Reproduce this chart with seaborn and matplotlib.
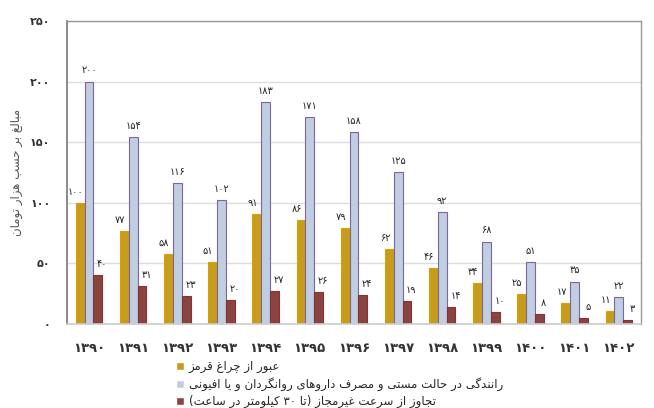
import pandas as pd
import seaborn as sns
import matplotlib
matplotlib.use('Agg')
import matplotlib.pyplot as plt

# data
years = ['1390', '1391', '1392', '1393', '1394', '1395', '1396',
         '1397', '1398', '1399', '1400', '1401', '1402']
red_light = [100, 77, 58, 51, 91, 86, 79, 62, 46, 34, 25, 17, 11]
drunk_driving = [200, 154, 116, 102, 183, 171, 158, 125, 92, 68, 51, 35, 22]
speeding = [40, 31, 23, 20, 27, 26, 24, 19, 14, 10, 8, 5, 3]
yticks = [0, 50, 100, 150, 200, 250]

s_red = 'عبور از چراغ قرمز'
s_drunk = 'رانندگی در حالت مستی و مصرف داروهای روانگردان و یا افیونی'
s_speed = 'تجاوز از سرعت غیرمجاز (تا ۳۰ کیلومتر در ساعت)'
s_ylabel = 'مبالغ بر حسب هزار تومان'

# ---- tiny persian shaper (matplotlib has no arabic shaping / bidi) ----
FORMS = {
    'ا': (0xFE8D, 0xFE8E), 'ب': (0xFE8F, 0xFE90, 0xFE91, 0xFE92),
    'ت': (0xFE95, 0xFE96, 0xFE97, 0xFE98), 'ج': (0xFE9D, 0xFE9E, 0xFE9F, 0xFEA0),
    'ح': (0xFEA1, 0xFEA2, 0xFEA3, 0xFEA4), 'د': (0xFEA9, 0xFEAA),
    'ر': (0xFEAD, 0xFEAE), 'ز': (0xFEAF, 0xFEB0),
    'س': (0xFEB1, 0xFEB2, 0xFEB3, 0xFEB4), 'ص': (0xFEB9, 0xFEBA, 0xFEBB, 0xFEBC),
    'ع': (0xFEC9, 0xFECA, 0xFECB, 0xFECC), 'غ': (0xFECD, 0xFECE, 0xFECF, 0xFED0),
    'ف': (0xFED1, 0xFED2, 0xFED3, 0xFED4), 'ق': (0xFED5, 0xFED6, 0xFED7, 0xFED8),
    'ل': (0xFEDD, 0xFEDE, 0xFEDF, 0xFEE0), 'م': (0xFEE1, 0xFEE2, 0xFEE3, 0xFEE4),
    'ن': (0xFEE5, 0xFEE6, 0xFEE7, 0xFEE8), 'ه': (0xFEE9, 0xFEEA, 0xFEEB, 0xFEEC),
    'و': (0xFEED, 0xFEEE), 'ی': (0xFBFC, 0xFBFD, 0xFBFE, 0xFBFF),
    'ک': (0xFB8E, 0xFB8F, 0xFB90, 0xFB91), 'گ': (0xFB92, 0xFB93, 0xFB94, 0xFB95),
    'چ': (0xFB7A, 0xFB7B, 0xFB7C, 0xFB7D),
}
FA_DIGITS = '۰۱۲۳۴۵۶۷۸۹'


def fa_num(n):
    return ''.join(FA_DIGITS[int(c)] for c in str(n))


def shape(text):
    out = []
    for i, ch in enumerate(text):
        if ch not in FORMS:
            out.append(ch)
            continue
        prev = text[i - 1] if i > 0 else ''
        nxt = text[i + 1] if i + 1 < len(text) else ''
        jp = prev in FORMS and len(FORMS[prev]) == 4
        jn = len(FORMS[ch]) == 4 and nxt in FORMS
        f = FORMS[ch]
        if jp and jn:
            g = f[3]
        elif jp:
            g = f[1]
        elif jn:
            g = f[2]
        else:
            g = f[0]
        out.append(chr(g))
    # visual order: reverse, but keep digit runs left-to-right
    runs, cur = [], ''
    for ch in out:
        if cur and ((ch in FA_DIGITS) != (cur[-1] in FA_DIGITS)):
            runs.append(cur)
            cur = ''
        cur += ch
    runs.append(cur)
    vis = []
    for r in reversed(runs):
        if r[0] in FA_DIGITS:
            vis.append(r)
        else:
            vis.append(r[::-1].translate(str.maketrans('()', ')(')))
    return ''.join(vis)


df = pd.DataFrame({
    'year': years * 3,
    'value': red_light + drunk_driving + speeding,
    'kind': [s_red] * 13 + [s_drunk] * 13 + [s_speed] * 13,
})

sns.set_style('white')
plt.rcParams['font.family'] = ['DejaVu Sans']

colors = ['#E3AA00', '#B9CDE5', '#953735']
edges = ['#D9A200', '#8064A2', '#8A3230']

fig, ax = plt.subplots(figsize=(6.54, 4.08), dpi=100)
fig.subplots_adjust(left=0.1024, right=0.980, top=0.9485, bottom=0.206)

sns.barplot(data=df, x='year', y='value', hue='kind',
            hue_order=[s_red, s_drunk, s_speed], palette=colors,
            width=0.6, ax=ax, legend=True)

for k, cont in enumerate(ax.containers):
    for bar in cont:
        bar.set_edgecolor(edges[k])
        bar.set_linewidth(0.8)
        h = bar.get_height()
        if k == 0:
            x = bar.get_x()
        elif k == 1:
            x = bar.get_x() + bar.get_width() / 2
        else:
            x = bar.get_x() + bar.get_width()
        ax.annotate(fa_num(int(h)), (x, h), xytext=(0, 8),
                    textcoords='offset points', ha='center', va='center',
                    fontsize=7, color='#222222')

ax.set_ylim(0, 250)
ax.set_xlim(-0.5, len(years) - 0.5)
ax.set_yticks(yticks)
ax.set_yticklabels([fa_num(t) for t in yticks], fontsize=8, fontweight='bold',
                   color='#333333')
ax.set_xticks(range(len(years)))
ax.set_xticklabels([fa_num(y) for y in years], fontsize=9.5, fontweight='bold',
                   color='#333333')
ax.tick_params(axis='x', length=0, pad=13)
ax.tick_params(axis='y', length=0, pad=12)
ax.set_xlabel('')
ax.set_ylabel(shape(s_ylabel), fontsize=8.5, color='#555555', labelpad=5)

ax.yaxis.grid(True, color='#DDDDDD', linewidth=1)
ax.set_axisbelow(True)
for side in ['top', 'right']:
    ax.spines[side].set_color('#999999')
    ax.spines[side].set_linewidth(1)
ax.spines['left'].set_color('#777777')
ax.spines['left'].set_linewidth(1.2)
ax.spines['bottom'].set_color('#CCCCCC')
ax.spines['bottom'].set_linewidth(1.2)

handles, labels = ax.get_legend_handles_labels()
ax.legend(handles, [shape(l) for l in labels], loc='upper left',
          bbox_to_anchor=(176 / 654, 1 - 360 / 408), bbox_transform=fig.transFigure,
          frameon=False, fontsize=8.5, handlelength=0.7, handleheight=0.7,
          handletextpad=0.4, labelspacing=0.35, borderpad=0, borderaxespad=0)

fig.savefig('out.png', dpi=100)
